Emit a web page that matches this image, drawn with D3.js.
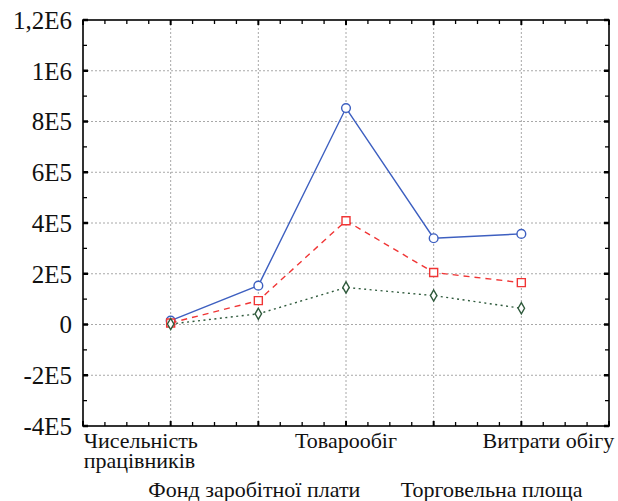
<!DOCTYPE html>
<html>
<head>
<meta charset="utf-8">
<script src="https://cdn.jsdelivr.net/npm/d3@7"></script>
</head>
<body style="margin:0">
<script>
// categories along x, in order
const categories = ["Чисельність працівників", "Фонд заробітної плати", "Товарообіг", "Торговельна площа", "Витрати обігу"];

// three series
const seriesBlue = [15000, 153000, 853000, 340000, 357000];
const seriesRed = [6000, 94000, 409000, 205000, 165000];
const seriesGreen = [2000, 42000, 146000, 114000, 64000];

const yTicks = [-400000, -200000, 0, 200000, 400000, 600000, 800000, 1000000, 1200000];
const yTickLabels = ["-4E5", "-2E5", "0", "2E5", "4E5", "6E5", "8E5", "1E6", "1,2E6"];

const width = 618, height = 501;
const plotL = 83, plotR = 609, plotT = 20, plotB = 426;

const svg = d3.select("body").append("svg")
    .attr("width", width)
    .attr("height", height);

const x = d3.scaleLinear().domain([0, categories.length + 1]).range([plotL, plotR]);
const y = d3.scaleLinear().domain([-400000, 1200000]).range([plotB, plotT]);

// grid
const grid = svg.append("g").attr("stroke", "#a8a8a8").attr("stroke-dasharray", "2,2").attr("stroke-width", 1);
grid.selectAll("line.h")
  .data(yTicks.slice(1, -1))
  .join("line")
    .attr("x1", plotL).attr("x2", plotR)
    .attr("y1", d => y(d)).attr("y2", d => y(d));
grid.selectAll("line.v")
  .data(d3.range(1, categories.length + 1))
  .join("line")
    .attr("y1", plotT).attr("y2", plotB)
    .attr("x1", d => x(d)).attr("x2", d => x(d));

// inward ticks on all four sides
const minorY = d3.range(-400000, 1200001, 100000);
const minorX = d3.range(0, categories.length + 1.01, 0.25);
const ticks = svg.append("g").attr("stroke", "#000").attr("stroke-width", 1.3);
ticks.selectAll("line.yl").data(minorY).join("line")
  .attr("x1", plotL).attr("x2", d => plotL + (d % 200000 === 0 ? 5 : 4))
  .attr("y1", d => y(d)).attr("y2", d => y(d))
  .attr("stroke-width", d => d % 200000 === 0 ? 2.5 : 1.3);
ticks.selectAll("line.yr").data(minorY).join("line")
  .attr("x1", plotR).attr("x2", d => plotR - (d % 200000 === 0 ? 5 : 4))
  .attr("y1", d => y(d)).attr("y2", d => y(d))
  .attr("stroke-width", d => d % 200000 === 0 ? 2.5 : 1.3);
ticks.selectAll("line.xb").data(minorX).join("line")
  .attr("y1", plotB).attr("y2", d => plotB - (Number.isInteger(d) ? 5 : 4))
  .attr("x1", d => x(d)).attr("x2", d => x(d))
  .attr("stroke-width", d => Number.isInteger(d) ? 2 : 1.3);
ticks.selectAll("line.xt").data(minorX).join("line")
  .attr("y1", plotT).attr("y2", d => plotT + (Number.isInteger(d) ? 5 : 4))
  .attr("x1", d => x(d)).attr("x2", d => x(d))
  .attr("stroke-width", d => Number.isInteger(d) ? 2 : 1.3);

// frame
svg.append("rect")
  .attr("x", plotL).attr("y", plotT)
  .attr("width", plotR - plotL).attr("height", plotB - plotT)
  .attr("fill", "none").attr("stroke", "#000").attr("stroke-width", 1.6);

// y labels
svg.append("g").selectAll("text")
  .data(yTicks)
  .join("text")
    .attr("x", plotL - 11)
    .attr("y", d => y(d))
    .attr("dy", "0.35em")
    .attr("text-anchor", "end")
    .style("fill", "#111")
    .style("font-family", '"Liberation Serif"')
    .style("font-size", "25px")
    .text((d, i) => yTickLabels[i]);

// x labels, staggered in two rows as in the original
const xLabels = [
  {i: 1, lines: ["Чисельність", "працівників"], anchor: "start", dx: -87, yy: 448},
  {i: 2, lines: ["Фонд заробітної плати"], anchor: "middle", dx: -4, yy: 497},
  {i: 3, lines: ["Товарообіг"], anchor: "middle", dx: 0, yy: 448},
  {i: 4, lines: ["Торговельна площа"], anchor: "middle", dx: 58, yy: 497},
  {i: 5, lines: ["Витрати обігу"], anchor: "middle", dx: 27, yy: 448}
];
const xl = svg.append("g").selectAll("text")
  .data(xLabels)
  .join("text")
    .attr("text-anchor", d => d.anchor)
    .attr("y", d => d.yy)
    .style("fill", "#111")
    .style("font-family", '"Liberation Serif"')
    .style("font-size", "22px");
xl.selectAll("tspan")
  .data(d => d.lines.map((t, k) => ({t, k, d})))
  .join("tspan")
    .attr("x", o => x(o.d.i) + o.d.dx)
    .attr("dy", o => o.k === 0 ? 0 : 20)
    .text(o => o.t);

// series
const line = d3.line().x((d, i) => x(i + 1)).y(d => y(d));

const series = [
  {values: seriesBlue, color: "#3d5fc0", dash: null, marker: "circle"},
  {values: seriesRed, color: "#f03535", dash: "6,5", marker: "square"},
  {values: seriesGreen, color: "#2f5a3c", dash: "2,3.5", marker: "diamond"}
];

series.forEach(s => {
  svg.append("path")
    .datum(s.values)
    .attr("fill", "none")
    .attr("stroke", s.color)
    .attr("stroke-width", 1.4)
    .attr("stroke-dasharray", s.dash)
    .attr("d", line);

  const sym = s.marker === "circle" ? d3.symbolCircle : s.marker === "square" ? d3.symbolSquare : d3.symbolDiamond;
  const size = s.marker === "circle" ? 60 : s.marker === "square" ? 64 : 36;
  svg.append("g").selectAll("path")
    .data(s.values)
    .join("path")
      .attr("transform", (d, i) => `translate(${x(i + 1)},${y(d)})`)
      .attr("d", d3.symbol().type(sym).size(size))
      .attr("fill", "#fff")
      .attr("stroke", s.color)
      .attr("stroke-width", 1.4);
});
</script>
</body>
</html>
